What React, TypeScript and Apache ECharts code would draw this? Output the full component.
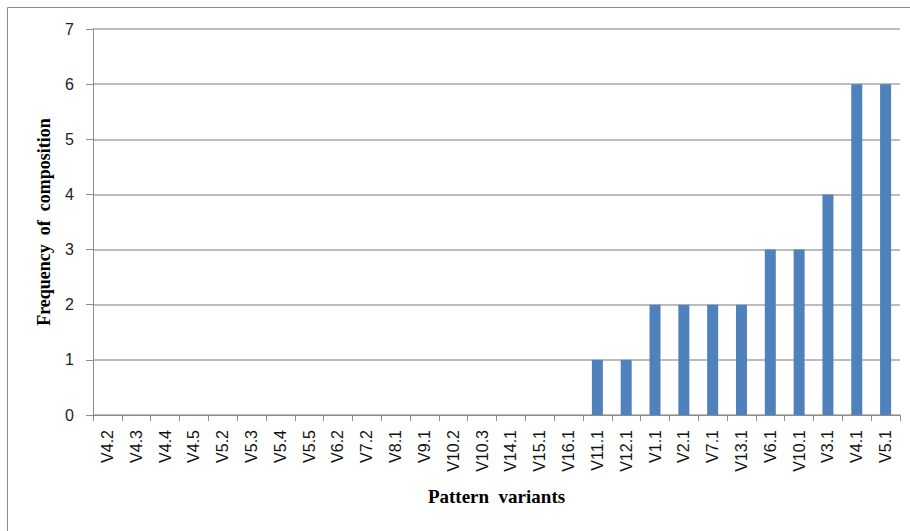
import React, { useEffect, useRef } from "react";
import * as echarts from "echarts";

const categories = [
  "V4.2", "V4.3", "V4.4", "V4.5", "V5.2", "V5.3", "V5.4", "V5.5", "V6.2", "V7.2",
  "V8.1", "V9.1", "V10.2", "V10.3", "V14.1", "V15.1", "V16.1", "V11.1", "V12.1",
  "V1.1", "V2.1", "V7.1", "V13.1", "V6.1", "V10.1", "V3.1", "V4.1", "V5.1",
];
const frequency = [
  0, 0, 0, 0, 0, 0, 0, 0, 0, 0, 0, 0, 0, 0, 0, 0, 0, 1, 1, 2, 2, 2, 2, 3, 3, 4, 6, 6,
];
const yTitle = "Frequency  of  composition";
const xTitle = "Pattern  variants";

export default function App() {
  const ref = useRef<HTMLDivElement>(null);
  useEffect(() => {
    if (!ref.current) return;
    const chart = echarts.init(ref.current, undefined, { renderer: "svg" });
    chart.setOption({
      animation: false,
      backgroundColor: "#fff",
      graphic: [
        {
          type: "rect",
          shape: { x: 7.5, y: 7.5, width: 1200, height: 1200 },
          style: { fill: "none", stroke: "#8c8c8c", lineWidth: 1 },
          silent: true,
        },
      ],
      grid: { left: 93, right: 10, top: 29, bottom: 116, containLabel: false },
      xAxis: {
        type: "category",
        data: categories,
        name: xTitle,
        nameLocation: "middle",
        nameGap: 72,
        nameTextStyle: {
          fontFamily: "Liberation Serif",
          fontWeight: "bold",
          fontSize: 19,
          color: "#000",
        },
        axisLine: { lineStyle: { color: "#8c8c8c", width: 1 } },
        axisTick: { show: true, alignWithLabel: false, length: 6, lineStyle: { color: "#8c8c8c" } },
        axisLabel: {
          rotate: 90,
          interval: 0,
          margin: 15,
          fontFamily: "Liberation Sans",
          fontSize: 16,
          color: "#111",
        },
      },
      yAxis: {
        type: "value",
        min: 0,
        max: 7,
        interval: 1,
        name: yTitle,
        nameLocation: "middle",
        nameGap: 40,
        nameTextStyle: {
          fontFamily: "Liberation Serif",
          fontWeight: "bold",
          fontSize: 18,
          color: "#000",
        },
        axisLine: { show: true, lineStyle: { color: "#8c8c8c", width: 1 } },
        axisTick: { show: true, length: 7, lineStyle: { color: "#8c8c8c" } },
        splitLine: { show: true, lineStyle: { color: "#a6a6a6", width: 1.5 } },
        axisLabel: {
          margin: 19,
          fontFamily: "Liberation Sans",
          fontSize: 16,
          color: "#222",
        },
      },
      series: [
        {
          type: "bar",
          data: frequency,
          barWidth: 11,
          itemStyle: { color: "#4f81bd" },
        },
      ],
    });
    return () => chart.dispose();
  }, []);
  return (
    <div
      ref={ref}
      style={{ position: "fixed", left: 0, top: 0, width: 910, height: 531 }}
    />
  );
}
